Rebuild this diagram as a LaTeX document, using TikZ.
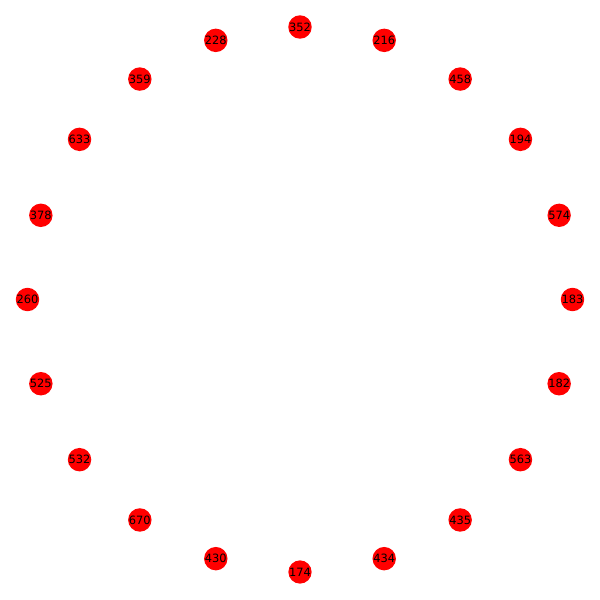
\documentclass[tikz,border=0pt]{standalone}
\usepackage{fontspec}
\setmainfont{DejaVu Sans}
\begin{document}
\begin{tikzpicture}[x=0.02cm,y=-0.02cm,
  vtx/.style={circle,fill=red,draw=none,minimum size=0.3cm,inner sep=0pt,font=\fontsize{6.5}{7}\selectfont,text=black}]
\useasboundingbox (0,0) rectangle (600,600);
\foreach \lab [count=\i from 0] in {352,216,458,194,574,183,182,563,435,434,174,430,670,532,525,260,378,633,359,228}{
  \pgfmathsetmacro{\ang}{90-18*\i}
  \node[vtx] (n\lab) at ({300+272.5*cos(\ang)},{299.5-272.5*sin(\ang)}) {\lab};
}
\end{tikzpicture}
\end{document}
